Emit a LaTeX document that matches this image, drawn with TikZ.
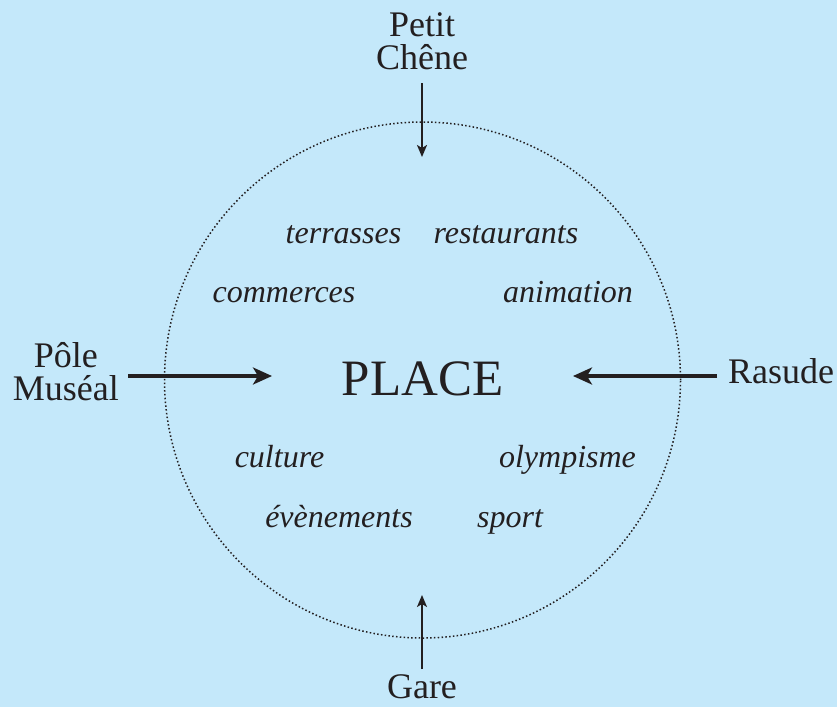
\documentclass[tikz,border=0pt]{standalone}
\usepackage{fontspec}
\setmainfont{Liberation Serif}
\usepackage{xcolor}
\usepackage{tikz}
\usetikzlibrary{arrows.meta}
\definecolor{skyblue}{HTML}{C4E8FA}
\definecolor{ink}{HTML}{231F20}
\tikzset{
  lbl/.style={text=ink, align=center, inner sep=0pt, font=\fontsize{36}{33}\selectfont},
  word/.style={text=ink, inner sep=0pt, anchor=base, font=\fontsize{32}{34}\selectfont\itshape},
  title/.style={text=ink, inner sep=0pt, anchor=base, font=\fontsize{51}{56}\selectfont},
  ring/.style={circle, draw=ink, line width=1.5pt, dash pattern=on 1.5pt off 2.3pt,
               minimum size=516pt, inner sep=0pt},
  thinflow/.style={-{Stealth[length=12pt, width=10pt, inset=3pt]}, draw=ink, line width=1.8pt},
  bigflow/.style={-{Stealth[length=19pt, width=17pt, inset=5pt]}, draw=ink, line width=3.2pt},
}
\begin{document}
\begin{tikzpicture}[x=1pt, y=-1pt]
\fill[skyblue] (0,0) rectangle (837,707);
\useasboundingbox (0,0) rectangle (837,707);

\node[ring] (circ) at (422.5,380) {};
\node[title] (place) at (422.5,395) {PLACE};

% themes autour de la place
\node[word] (terrasses) at (343.5,243) {terrasses};
\node[word] (restaurants) at (506,243) {restaurants};
\node[word] (commerces) at (284,302) {commerces};
\node[word] (animation) at (568,302) {animation};
\node[word] (culture) at (279.5,467) {culture};
\node[word] (olympisme) at (567.5,467) {olympisme};
\node[word] (evenements) at (339,527) {évènements};
\node[word] (sport) at (510,527) {sport};

% acces
\node[lbl, anchor=south, inner ysep=13pt] (petit) at (422,83) {Petit\\Chêne};
\node[lbl, anchor=north, inner ysep=5pt] (gare) at (422,669) {Gare};
\node[lbl, anchor=east, inner xsep=9pt] (pole) at (128,372) {Pôle\\Muséal};
\node[lbl, anchor=west, inner xsep=11pt] (rasude) at (717,371) {Rasude};

\coordinate (ntip) at (422,157);
\coordinate (stip) at (422,595);
\coordinate (wtip) at (272,376);
\coordinate (etip) at (573,376);

\draw[thinflow] (petit.south) -- (ntip);
\draw[thinflow] (gare.north) -- (stip);
\draw[bigflow] (pole.east |- wtip) -- (wtip);
\draw[bigflow] (rasude.west |- etip) -- (etip);
\end{tikzpicture}
\end{document}
